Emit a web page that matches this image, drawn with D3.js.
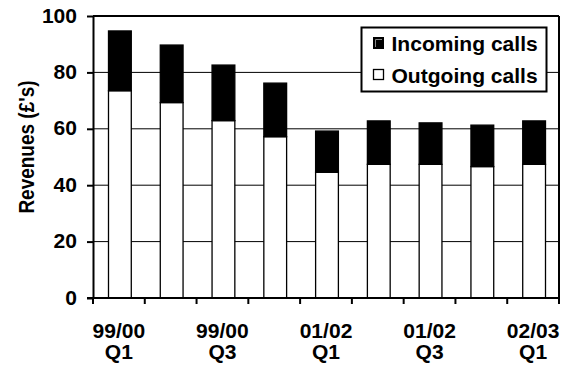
<!DOCTYPE html>
<html>
<head>
<meta charset="utf-8">
<script src="https://cdn.jsdelivr.net/npm/d3@7"></script>
<style>
  html, body { margin: 0; padding: 0; background: #fff; }
  svg { display: block; }
  text { font-family: "Liberation Sans", Arial, Helvetica, sans-serif; font-weight: bold; fill: #000; }
</style>
</head>
<body>
<svg id="chart" width="563" height="366"></svg>
<script>
// ---- data ----
const categories = ["99/00 Q1","99/00 Q2","99/00 Q3","99/00 Q4","01/02 Q1","01/02 Q2","01/02 Q3","01/02 Q4","02/03 Q1"];
const tickLabels = [["99/00","Q1"], null, ["99/00","Q3"], null, ["01/02","Q1"], null, ["01/02","Q3"], null, ["02/03","Q1"]];
const outgoing = [73.5, 69.3, 62.9, 57.2, 44.6, 47.4, 47.4, 46.6, 47.4];
const incoming = [21.2, 20.4, 19.7, 19.0, 14.6, 15.4, 14.7, 14.7, 15.4];
const yTicks = [0, 20, 40, 60, 80, 100];
const seriesNames = ["Incoming calls", "Outgoing calls"];
const yTitle = "Revenues (£'s)";

// ---- layout ----
const W = 563, H = 366;
const m = { left: 93, right: 4, top: 16, bottom: 68 };
const SX = 1.08;       // horizontal text stretch
const FS = 19.5;

const svg = d3.select("#chart");
const x = d3.scaleBand().domain(categories).range([m.left, W - m.right]).paddingInner(0).paddingOuter(0);
const y = d3.scaleLinear().domain([0, 100]).range([H - m.bottom, m.top]);
const bw = x.bandwidth();
const barFrac = 0.44;

// gridlines
svg.append("g").selectAll("line").data(yTicks.filter(v => v > 0 && v < 100)).join("line")
  .attr("x1", m.left).attr("x2", W - m.right)
  .attr("y1", d => y(d)).attr("y2", d => y(d))
  .attr("stroke", "#000").attr("stroke-width", 1);

// bars
const data = categories.map((c, i) => ({ c, out: outgoing[i], inc: incoming[i] }));
const bars = svg.append("g");
bars.selectAll("rect.out").data(data).join("rect").attr("class", "out")
  .attr("x", d => x(d.c) + bw * (1 - barFrac) / 2 + 1)
  .attr("width", bw * barFrac)
  .attr("y", d => y(d.out))
  .attr("height", d => y(0) - y(d.out))
  .attr("fill", "#fff").attr("stroke", "#000").attr("stroke-width", 1.3);
bars.selectAll("rect.inc").data(data).join("rect").attr("class", "inc")
  .attr("x", d => x(d.c) + bw * (1 - barFrac) / 2 + 1)
  .attr("width", bw * barFrac)
  .attr("y", d => y(d.out + d.inc))
  .attr("height", d => y(d.out) - y(d.out + d.inc))
  .attr("fill", "#000").attr("stroke", "#000").attr("stroke-width", 1.3);

// frame top and right
svg.append("line").attr("x1", m.left).attr("x2", W - m.right).attr("y1", y(100)).attr("y2", y(100))
  .attr("stroke", "#000").attr("stroke-width", 2);
svg.append("line").attr("x1", W - m.right).attr("x2", W - m.right).attr("y1", y(100)).attr("y2", y(0))
  .attr("stroke", "#000").attr("stroke-width", 2);

// y axis
const yAxis = svg.append("g").attr("transform", `translate(${m.left},0)`)
  .call(d3.axisLeft(y).tickValues(yTicks).tickSize(6).tickSizeOuter(0).tickFormat(""));
yAxis.selectAll("path, line").attr("stroke", "#000").attr("stroke-width", 2);

// x axis
const xEdges = d3.range(categories.length + 1).map(i => m.left + i * x.step());
const xAxis = svg.append("g").attr("transform", `translate(0,${y(0)})`);
xAxis.append("line").attr("x1", m.left - 6).attr("x2", W - m.right).attr("y1", 0).attr("y2", 0)
  .attr("stroke", "#000").attr("stroke-width", 2);
xAxis.selectAll("line.tk").data(xEdges).join("line").attr("class", "tk")
  .attr("x1", d => d).attr("x2", d => d).attr("y1", 0).attr("y2", 6)
  .attr("stroke", "#000").attr("stroke-width", 2);

// y tick labels
svg.append("g").selectAll("text").data(yTicks).join("text")
  .attr("transform", d => `translate(${m.left - 16},${y(d)}) scale(${SX},1)`)
  .attr("dy", "0.34em").attr("text-anchor", "end").attr("font-size", FS)
  .text(d => d);

// x tick labels
const xl = svg.append("g");
categories.forEach((c, i) => {
  const lab = tickLabels[i];
  if (!lab) return;
  lab.forEach((s, j) => {
    xl.append("text")
      .attr("transform", `translate(${x(c) + bw / 2},${y(0) + 39.5 + j * 21.5}) scale(${SX},1)`)
      .attr("text-anchor", "middle").attr("font-size", FS)
      .text(s);
  });
});

// y title
svg.append("text")
  .attr("transform", `translate(34,147) scale(1.12,1) rotate(-90)`)
  .attr("text-anchor", "middle").attr("font-size", 19)
  .text(yTitle);

// legend
const lg = svg.append("g");
lg.append("rect").attr("x", 361.5).attr("y", 27.5).attr("width", 185).attr("height", 64)
  .attr("fill", "#fff").attr("stroke", "#000").attr("stroke-width", 2);
// incoming swatch
lg.append("rect").attr("x", 373.5).attr("y", 37.5).attr("width", 10).attr("height", 11)
  .attr("fill", "#000").attr("stroke", "#000").attr("stroke-width", 1);
lg.append("path").attr("d", "M375.5,47 L375.5,39.5 L382,39.5").attr("fill", "none")
  .attr("stroke", "#888").attr("stroke-width", 1);
// outgoing swatch
lg.append("rect").attr("x", 373.5).attr("y", 69.5).attr("width", 10).attr("height", 10)
  .attr("fill", "#fff").attr("stroke", "#000").attr("stroke-width", 1.3);
seriesNames.forEach((s, i) => {
  lg.append("text")
    .attr("transform", `translate(391.5,${51 + i * 31.5}) scale(${SX},1)`)
    .attr("font-size", FS)
    .text(s);
});
</script>
</body>
</html>
